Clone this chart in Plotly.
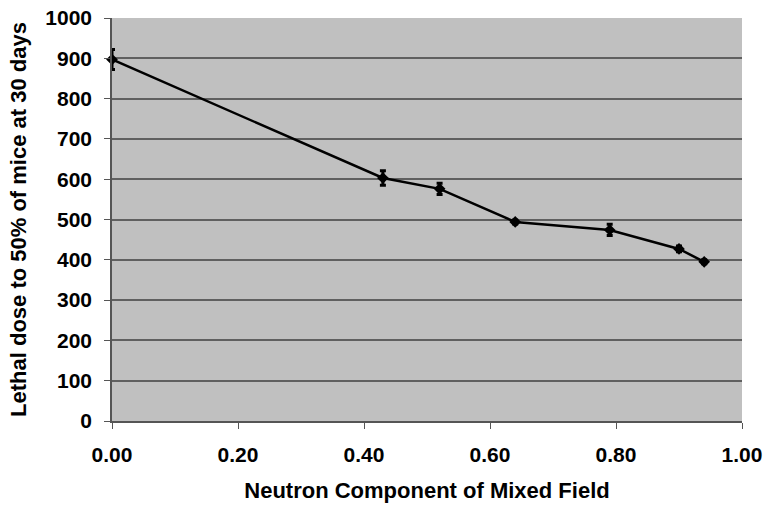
import plotly.graph_objects as go

neutron_fraction = [0.00, 0.43, 0.52, 0.64, 0.79, 0.90, 0.94]
ld50 = [897, 603, 576, 494, 474, 427, 395]
ld50_err = [25, 18, 14, 5, 14, 7, 5]

x_ticks = [0.0, 0.2, 0.4, 0.6, 0.8, 1.0]
x_tick_labels = ["0.00", "0.20", "0.40", "0.60", "0.80", "1.00"]
y_ticks = list(range(0, 1001, 100))

fig = go.Figure()
fig.add_trace(go.Scatter(
    x=neutron_fraction, y=ld50,
    mode="lines+markers",
    line=dict(color="black", width=2.5),
    marker=dict(symbol="diamond", size=9, color="black"),
    error_y=dict(type="data", array=ld50_err, visible=True, color="black", thickness=3, width=3),
    showlegend=False,
    cliponaxis=False,
))

font = "Liberation Sans, Arial, sans-serif"
fig.update_layout(
    width=766, height=508,
    margin=dict(l=112, r=24, t=18, b=87),
    paper_bgcolor="white",
    plot_bgcolor="#c0c0c0",
    font=dict(family=font, color="black"),
    xaxis=dict(
        range=[0, 1.0], tickvals=x_ticks, ticktext=x_tick_labels,
        showgrid=False, zeroline=False, automargin=False,
        showline=True, linecolor="#555555", linewidth=1.5,
        ticks="outside", ticklen=6, tickcolor="#555555",
        ticklabelstandoff=8, ticklabeloverflow="allow",
        tickfont=dict(size=21, family=font, weight="bold"),
        title=dict(text="<b>Neutron Component of Mixed Field</b>", font=dict(size=22), standoff=18),
    ),
    yaxis=dict(
        range=[0, 1000], tickvals=y_ticks,
        showgrid=True, gridcolor="#606060", gridwidth=1.5,
        zeroline=False, automargin=False,
        showline=True, linecolor="#555555", linewidth=1.5,
        ticks="outside", ticklen=6, tickcolor="#555555",
        ticklabelstandoff=8, ticklabeloverflow="allow",
        tickfont=dict(size=21, family=font, weight="bold"),
        title=dict(text="<b>Lethal dose to 50% of mice at 30 days</b>", font=dict(size=22), standoff=13),
    ),
)

fig.write_html("out.html", config={"displayModeBar": False},
               post_script="document.body.style.margin='0';")
